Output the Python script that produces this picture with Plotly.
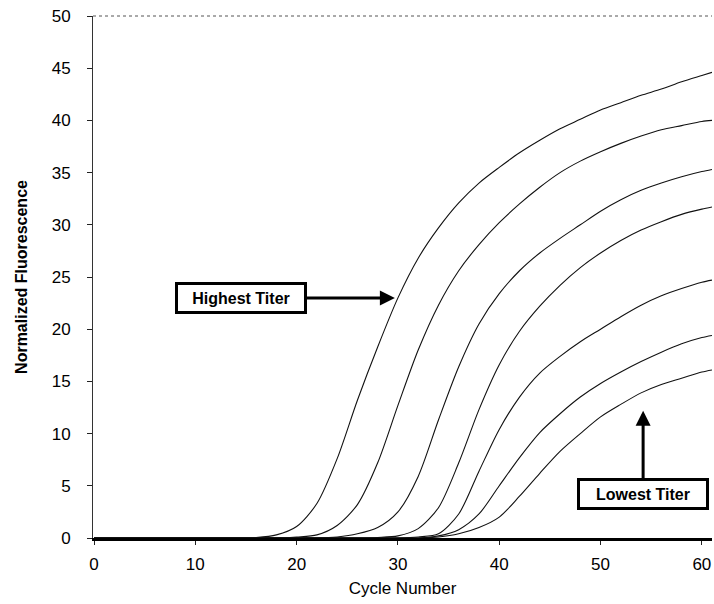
import plotly.graph_objects as go

cycles = [0, 2, 4, 6, 8, 10, 12, 14, 16, 18, 20, 22, 24, 26, 28, 30, 32, 34, 36, 38,
          40, 42, 44, 46, 48, 50, 52, 54, 56, 58, 60, 61]

curve1 = [0, 0, 0, 0, 0, 0, 0, 0, 0.05, 0.3, 1.1, 3.3, 7.6, 13.2, 18.3, 23.0, 26.8, 29.7, 32.1, 34.0,
          35.5, 36.9, 38.1, 39.2, 40.1, 41.0, 41.7, 42.4, 43.0, 43.7, 44.3, 44.6]
curve2 = [0, 0, 0, 0, 0, 0, 0, 0, 0, 0, 0.1, 0.3, 1.2, 3.2, 7.2, 12.7, 18.0, 22.3, 25.6, 28.1,
          30.2, 32.0, 33.6, 35.0, 36.1, 37.0, 37.8, 38.5, 39.1, 39.5, 39.9, 40.0]
curve3 = [0, 0, 0, 0, 0, 0, 0, 0, 0, 0, 0, 0, 0.1, 0.4, 1.0, 2.5, 5.9, 11.3, 16.4, 20.5,
          23.4, 25.6, 27.3, 28.7, 30.0, 31.3, 32.4, 33.3, 34.0, 34.6, 35.1, 35.3]
curve4 = [0, 0, 0, 0, 0, 0, 0, 0, 0, 0, 0, 0, 0, 0, 0.05, 0.2, 0.9, 2.9, 7.2, 12.3,
          16.6, 19.8, 22.2, 24.2, 25.9, 27.3, 28.5, 29.5, 30.3, 31.0, 31.5, 31.7]
curve5 = [0, 0, 0, 0, 0, 0, 0, 0, 0, 0, 0, 0, 0, 0, 0, 0, 0.1, 0.4, 2.3, 6.4,
          10.4, 13.5, 15.8, 17.4, 18.8, 20.0, 21.2, 22.3, 23.2, 23.9, 24.5, 24.7]
curve6 = [0, 0, 0, 0, 0, 0, 0, 0, 0, 0, 0, 0, 0, 0, 0, 0, 0, 0.2, 0.8, 2.3,
          5.0, 7.7, 10.1, 11.9, 13.5, 14.8, 15.9, 16.9, 17.8, 18.6, 19.2, 19.4]
curve7 = [0, 0, 0, 0, 0, 0, 0, 0, 0, 0, 0, 0, 0, 0, 0, 0, 0, 0.1, 0.4, 1.0,
          2.0, 4.0, 6.2, 8.3, 10.0, 11.6, 12.8, 13.9, 14.7, 15.3, 15.9, 16.1]

x_ticks = [0, 10, 20, 30, 40, 50, 60]
y_ticks = [0, 5, 10, 15, 20, 25, 30, 35, 40, 45, 50]

highest_label = "Highest Titer"
highest_head = (29.7, 23.0)
highest_tail = (14.5, 23.0)
lowest_label = "Lowest Titer"
lowest_head = (54.2, 12.2)
lowest_tail = (54.2, 4.2)

FONT = "Liberation Sans, Arial, sans-serif"

fig = go.Figure()
for ys in [curve1, curve2, curve3, curve4, curve5, curve6, curve7]:
    fig.add_trace(go.Scatter(
        x=cycles, y=ys, mode="lines",
        line=dict(color="#111111", width=1.1, shape="spline", smoothing=0.8),
        showlegend=False, hoverinfo="skip",
    ))

for label, head, tail in [(highest_label, highest_head, highest_tail),
                          (lowest_label, lowest_head, lowest_tail)]:
    fig.add_annotation(
        x=head[0], y=head[1], ax=tail[0], ay=tail[1],
        xref="x", yref="y", axref="x", ayref="y",
        text="<b>" + label + "</b>",
        showarrow=True, arrowhead=2, arrowsize=1.0, arrowwidth=3, arrowcolor="#000000",
        font=dict(family=FONT, size=16, color="#000000"),
        bgcolor="#ffffff", bordercolor="#000000", borderwidth=3, borderpad=3,
        width=120, height=20,
    )

# top frame line (dotted, as in the scanned original)
fig.add_shape(type="line", xref="paper", yref="paper", x0=0, x1=1, y0=1, y1=1,
              line=dict(color="#555555", width=1, dash="dot"))

fig.update_layout(
    width=714, height=604,
    margin=dict(l=93, r=2, t=16, b=66),
    paper_bgcolor="#ffffff", plot_bgcolor="#ffffff",
    font=dict(family=FONT, size=17, color="#000000"),
    xaxis=dict(
        range=[-0.1, 61], tickmode="array", tickvals=x_ticks,
        ticks="outside", ticklen=4, tickwidth=1, tickcolor="#222222",
        showline=True, linecolor="#000000", linewidth=2.5,
        showgrid=False, zeroline=False,
        ticklabelstandoff=5,
        tickfont=dict(family=FONT, size=17, color="#000000"),
        title=dict(text="Cycle Number", font=dict(family=FONT, size=17, color="#000000"), standoff=9),
    ),
    yaxis=dict(
        range=[0, 50], tickmode="array", tickvals=y_ticks,
        ticks="outside", ticklen=5, tickwidth=1, tickcolor="#222222",
        showline=True, linecolor="#333333", linewidth=1,
        showgrid=False, zeroline=False,
        ticklabelstandoff=13,
        tickfont=dict(family=FONT, size=17, color="#000000"),
        title=dict(text="<b>Normalized Fluorescence</b>", font=dict(family=FONT, size=16, color="#000000"), standoff=20),
    ),
)

fig.write_html("out.html")
